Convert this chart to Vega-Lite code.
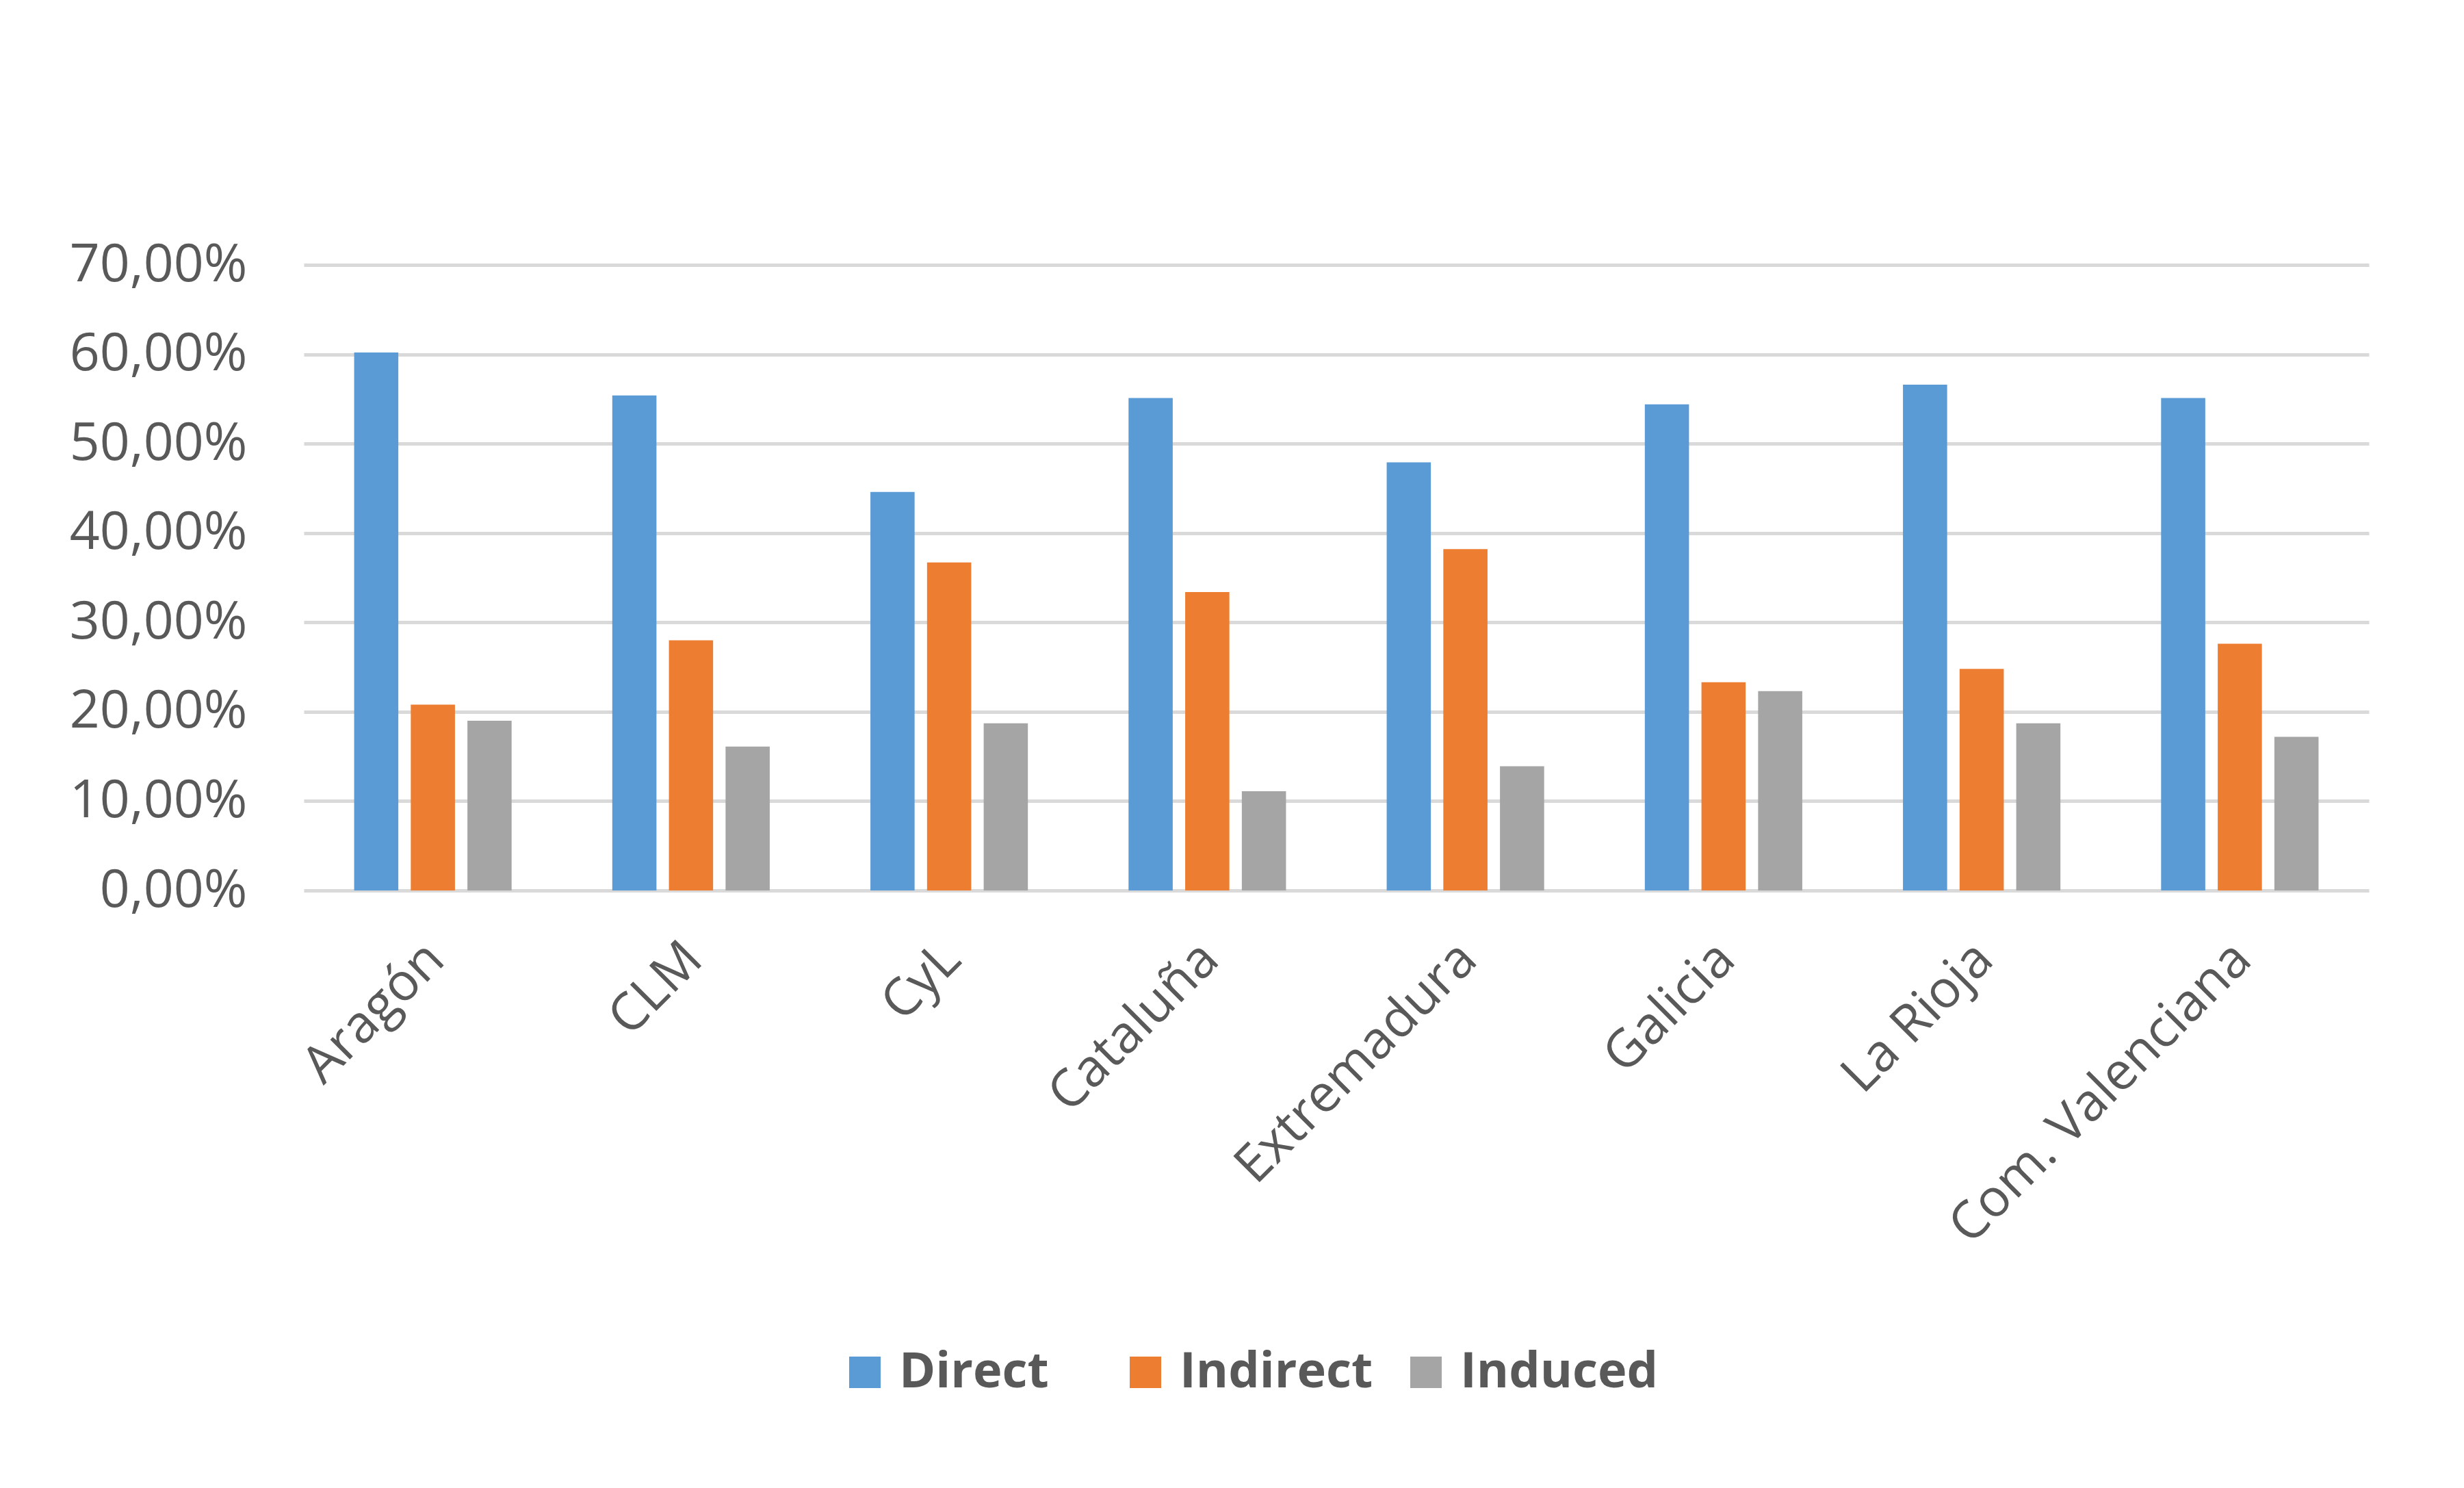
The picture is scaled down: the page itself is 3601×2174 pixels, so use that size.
{
  "$schema": "https://vega.github.io/schema/vega-lite/v6.json",
  "autosize": {"type": "none"},
  "padding": {"left": 444, "top": 387, "right": 139, "bottom": 873},
  "width": 3018,
  "height": 914,
  "background": "white",
  "config": {
    "view": {"stroke": null},
    "font": "Open Sans"
  },
  "data": {
    "values": [
      {"region": "Aragón", "type": "Direct", "value": 60.2},
      {"region": "Aragón", "type": "Indirect", "value": 20.8},
      {"region": "Aragón", "type": "Induced", "value": 19.0},
      {"region": "CLM", "type": "Direct", "value": 55.4},
      {"region": "CLM", "type": "Indirect", "value": 28.0},
      {"region": "CLM", "type": "Induced", "value": 16.1},
      {"region": "CyL", "type": "Direct", "value": 44.6},
      {"region": "CyL", "type": "Indirect", "value": 36.7},
      {"region": "CyL", "type": "Induced", "value": 18.7},
      {"region": "Cataluña", "type": "Direct", "value": 55.1},
      {"region": "Cataluña", "type": "Indirect", "value": 33.4},
      {"region": "Cataluña", "type": "Induced", "value": 11.1},
      {"region": "Extremadura", "type": "Direct", "value": 47.9},
      {"region": "Extremadura", "type": "Indirect", "value": 38.2},
      {"region": "Extremadura", "type": "Induced", "value": 13.9},
      {"region": "Galicia", "type": "Direct", "value": 54.4},
      {"region": "Galicia", "type": "Indirect", "value": 23.3},
      {"region": "Galicia", "type": "Induced", "value": 22.3},
      {"region": "La Rioja", "type": "Direct", "value": 56.6},
      {"region": "La Rioja", "type": "Indirect", "value": 24.8},
      {"region": "La Rioja", "type": "Induced", "value": 18.7},
      {"region": "Com. Valenciana", "type": "Direct", "value": 55.1},
      {"region": "Com. Valenciana", "type": "Indirect", "value": 27.6},
      {"region": "Com. Valenciana", "type": "Induced", "value": 17.2}
    ]
  },
  "mark": {"type": "bar"},
  "encoding": {
    "x": {
      "field": "region",
      "type": "nominal",
      "sort": null,
      "scale": {"paddingInner": 0.39, "paddingOuter": 0.195},
      "axis": {
        "title": null,
        "labelAngle": -45,
        "labelFontSize": 76,
        "labelColor": "#595959",
        "labelPadding": 62,
        "labelOffset": -22,
        "labelLimit": 1000,
        "ticks": false,
        "domain": false,
        "grid": false
      }
    },
    "xOffset": {
      "field": "type",
      "type": "nominal",
      "sort": ["Direct", "Indirect", "Induced"],
      "scale": {"paddingInner": 0.22, "paddingOuter": 0}
    },
    "y": {
      "field": "value",
      "type": "quantitative",
      "scale": {"domain": [0, 70], "nice": false, "zero": true},
      "axis": {
        "title": null,
        "values": [0, 10, 20, 30, 40, 50, 60, 70],
        "labelExpr": "replace(format(datum.value, '.2f'), '.', ',') + '%'",
        "labelFontSize": 77,
        "labelColor": "#595959",
        "labelPadding": 83,
        "labelLimit": 1000,
        "ticks": false,
        "domain": false,
        "grid": true,
        "gridColor": "#d9d9d9",
        "gridWidth": 5
      }
    },
    "color": {
      "field": "type",
      "type": "nominal",
      "sort": ["Direct", "Indirect", "Induced"],
      "scale": {
        "domain": ["Direct", "Indirect", "Induced"],
        "range": ["#5b9bd5", "#ed7d31", "#a5a5a5"]
      },
      "legend": {
        "title": null,
        "orient": "none",
        "legendX": 784,
        "legendY": 1582,
        "direction": "horizontal",
        "columns": 3,
        "gridAlign": "all",
        "columnPadding": 34,
        "symbolType": "square",
        "symbolSize": 2116,
        "symbolStrokeWidth": 0,
        "labelFontSize": 72,
        "labelFontWeight": "bold",
        "labelColor": "#595959",
        "labelOffset": 14,
        "labelLimit": 1000
      }
    }
  }
}
